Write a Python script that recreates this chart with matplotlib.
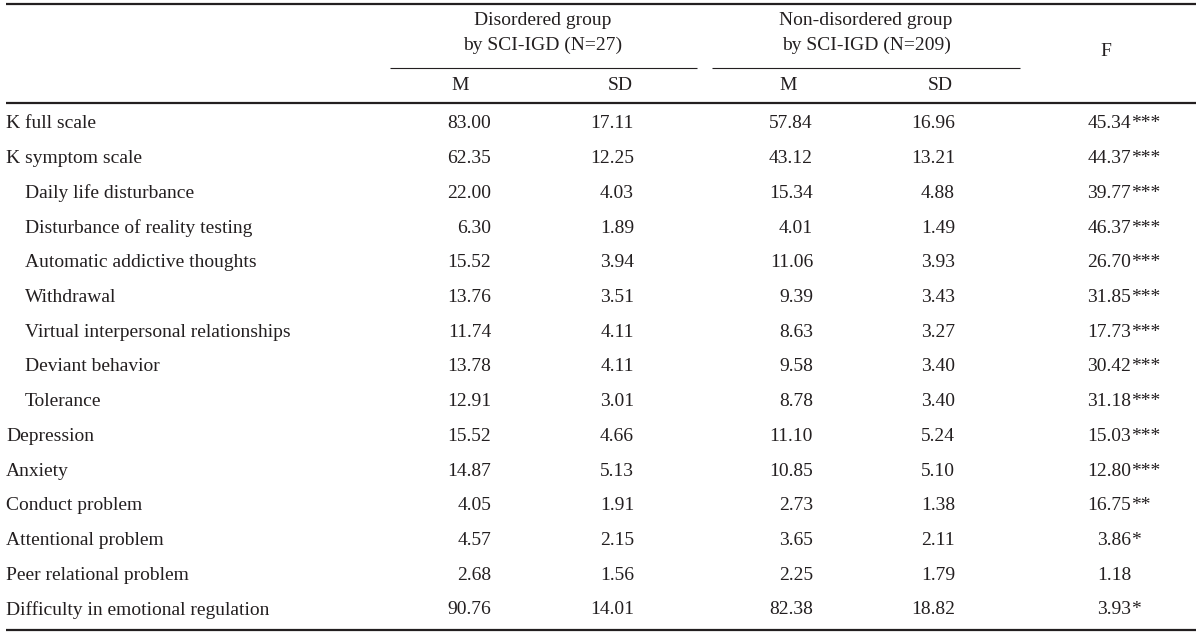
import matplotlib.pyplot as plt

plt.rcParams['font.family'] = ['Liberation Serif', 'DejaVu Serif']

# Table contents
labels = ['K full scale', 'K symptom scale', 'Daily life disturbance',
          'Disturbance of reality testing', 'Automatic addictive thoughts',
          'Withdrawal', 'Virtual interpersonal relationships', 'Deviant behavior',
          'Tolerance', 'Depression', 'Anxiety', 'Conduct problem',
          'Attentional problem', 'Peer relational problem',
          'Difficulty in emotional regulation']
indented = [False, False, True, True, True, True, True, True, True,
            False, False, False, False, False, False]
dis_m = ['83.00', '62.35', '22.00', '6.30', '15.52', '13.76', '11.74', '13.78',
         '12.91', '15.52', '14.87', '4.05', '4.57', '2.68', '90.76']
dis_sd = ['17.11', '12.25', '4.03', '1.89', '3.94', '3.51', '4.11', '4.11',
          '3.01', '4.66', '5.13', '1.91', '2.15', '1.56', '14.01']
non_m = ['57.84', '43.12', '15.34', '4.01', '11.06', '9.39', '8.63', '9.58',
         '8.78', '11.10', '10.85', '2.73', '3.65', '2.25', '82.38']
non_sd = ['16.96', '13.21', '4.88', '1.49', '3.93', '3.43', '3.27', '3.40',
          '3.40', '5.24', '5.10', '1.38', '2.11', '1.79', '18.82']
f_val = ['45.34', '44.37', '39.77', '46.37', '26.70', '31.85', '17.73', '30.42',
         '31.18', '15.03', '12.80', '16.75', '3.86', '1.18', '3.93']
f_sig = ['***', '***', '***', '***', '***', '***', '***', '***',
         '***', '***', '***', '**', '*', '', '*']
group_heads = ['Disordered group\nby SCI-IGD (N=27)',
               'Non-disordered group\nby SCI-IGD (N=209)']
sub_heads = ['M', 'SD', 'M', 'SD']

fig = plt.figure(figsize=(12, 6.35), dpi=100)
ax = fig.add_axes([0, 0, 1, 1])
ax.set_xlim(0, 1200)
ax.set_ylim(635, 0)
ax.axis('off')

fs = 14
col = '#231f20'

# rules
ax.hlines([4, 103, 630], 6, 1196, color=col, lw=1.6)
ax.hlines(68, 390, 697, color=col, lw=0.8)
ax.hlines(68, 712, 1020, color=col, lw=0.8)

# header
for x, txt in zip([543, 866], group_heads):
    ax.text(x, 33, txt, ha='center', va='center', fontsize=fs, color=col,
            linespacing=1.55)
for x, txt in zip([460, 620, 788, 940], sub_heads):
    ax.text(x, 86, txt, ha='center', va='center', fontsize=fs, color=col)
ax.text(1106, 52, 'F', ha='center', va='center', fontsize=fs, color=col)

# body
y0, dy = 124, 34.7
for i, lab in enumerate(labels):
    y = y0 + i * dy
    ax.text(25 if indented[i] else 6, y, lab, ha='left', va='center',
            fontsize=fs, color=col)
    for x, vals in zip([491, 634, 813, 955], [dis_m, dis_sd, non_m, non_sd]):
        ax.text(x, y, vals[i], ha='right', va='center', fontsize=fs, color=col)
    ax.text(1131, y, f_val[i], ha='right', va='center', fontsize=fs, color=col)
    ax.text(1131, y, f_sig[i], ha='left', va='center', fontsize=fs, color=col)

fig.savefig('out.png', dpi=100)
